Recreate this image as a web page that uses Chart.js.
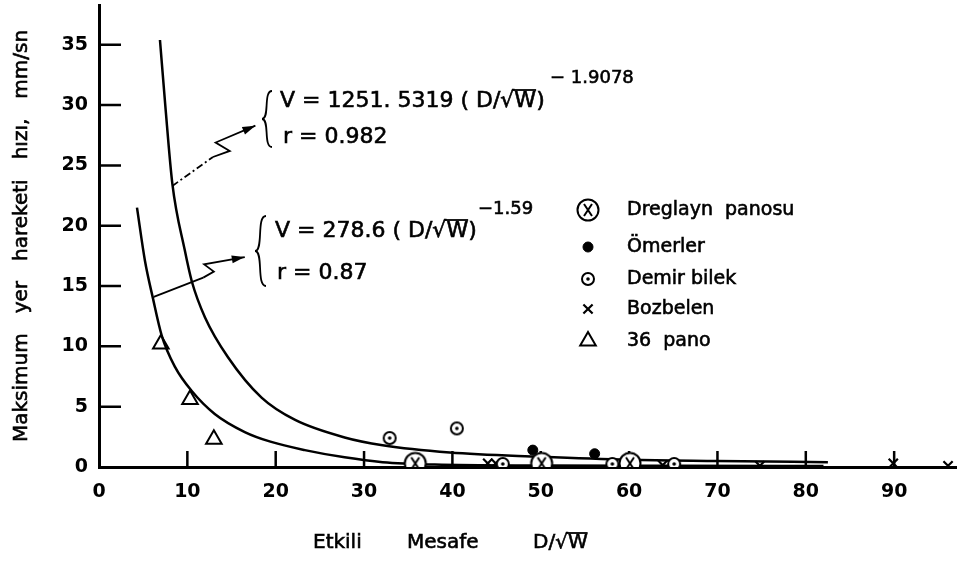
<!DOCTYPE html>
<html>
<head>
<meta charset="utf-8">
<script src="https://cdn.jsdelivr.net/npm/chart.js@4.4.0/dist/chart.umd.min.js"></script>
<style>
  html, body { margin: 0; padding: 0; background: #fff; }
  canvas { display: block; }
</style>
</head>
<body>
<canvas id="chart" width="971" height="569"></canvas>
<script>
// ===== Data =====
const xTicks = [0, 10, 20, 30, 40, 50, 60, 70, 80, 90];
const yTicks = [0, 5, 10, 15, 20, 25, 30, 35];

// V = 1251.5319 (D/sqrt W)^-1.9078 , r = 0.982
const curve1X = [6.9, 7.5, 8.3, 9.7, 10.5, 12.0, 14.6, 18.4, 22.2, 27.8, 32.1, 39.7, 50, 60, 70, 82.5];
const curve1Y = [35.4, 30.0, 23.5, 18.0, 15.4, 12.4, 9.1, 5.75, 3.9, 2.45, 1.8, 1.2, 0.85, 0.6, 0.5, 0.4];
// V = 278.6 (D/sqrt W)^-1.59 , r = 0.87
const curve2X = [4.3, 5.2, 6.1, 7.1, 8.6, 10.5, 13.1, 16.5, 19.4, 23.3, 27.8, 32.1, 38, 50, 65, 82];
const curve2Y = [21.5, 17.1, 14.0, 10.9, 8.3, 6.3, 4.4, 2.9, 2.1, 1.4, 0.8, 0.4, 0.2, 0.12, 0.1, 0.08];

const dregX = [35.8, 50.1, 60.1];
const dregY = [0.3, 0.3, 0.3];
const omerX = [49.1, 56.1];
const omerY = [1.4, 1.1];
const demirX = [32.9, 40.5, 45.7, 58.1, 65.1];
const demirY = [2.4, 3.2, 0.25, 0.25, 0.25];
const bozX = [44.0, 44.9, 63.8, 74.8, 89.9, 96.1];
const bozY = [0.3, 0.3, 0.15, 0.1, 0.3, 0.1];
const panoX = [7.0, 10.3, 13.0];
const panoY = [10.2, 5.6, 2.3];

const legendLabels = ["Dreglayn  panosu", "Ömerler", "Demir bilek", "Bozbelen", "36  pano"];

const pts = (xs, ys) => xs.map((x, i) => ({ x, y: ys[i] }));
const FONT = "'DejaVu Sans', sans-serif";

// ===== custom point symbols =====
function makeSymbol(size, paint) {
  const c = document.createElement("canvas");
  c.width = size; c.height = size;
  const g = c.getContext("2d");
  g.translate(size / 2, size / 2);
  g.strokeStyle = "#000";
  paint(g);
  return c;
}
const dregSymbol = makeSymbol(26, g => {
  g.lineWidth = 2;
  g.beginPath(); g.arc(0, 0, 10.5, 0, Math.PI * 2);
  g.fillStyle = "#fff"; g.fill(); g.stroke();
  g.beginPath();
  g.moveTo(-4, -6); g.lineTo(4, 6);
  g.moveTo(4, -6); g.lineTo(-4, 6);
  g.stroke();
});
const demirSymbol = makeSymbol(18, g => {
  g.lineWidth = 2;
  g.beginPath(); g.arc(0, 0, 6, 0, Math.PI * 2);
  g.fillStyle = "#fff"; g.fill(); g.stroke();
  g.beginPath(); g.arc(0, 0, 1.8, 0, Math.PI * 2);
  g.fillStyle = "#000"; g.fill();
});

// ===== inward tick marks =====
const insideTicks = {
  id: "insideTicks",
  beforeDatasetsDraw(chart) {
    const { ctx, chartArea, scales: { x, y } } = chart;
    ctx.save();
    ctx.strokeStyle = "#000";
    ctx.lineWidth = 2.5;
    ctx.beginPath();
    xTicks.forEach(v => {
      if (v === 0) return;
      const px = x.getPixelForValue(v);
      ctx.moveTo(px, chartArea.bottom); ctx.lineTo(px, chartArea.bottom - 16);
    });
    yTicks.forEach(v => {
      if (v === 0) return;
      const py = y.getPixelForValue(v);
      ctx.moveTo(chartArea.left, py); ctx.lineTo(chartArea.left + 22, py);
    });
    ctx.stroke();
    ctx.restore();
  }
};

// ===== equations, leaders, legend, axis titles =====
const leader1 = [[8.3, 23.3], [12.9, 25.7], [14.8, 26.2], [13.2, 26.9], [17.7, 28.3]];
const leader2 = [[6.2, 14.1], [11.8, 15.7], [13.0, 16.2], [11.9, 16.8], [16.5, 17.4]];

// text with a little extra weight, like the lettering of the original
function txt(ctx, s, x, y) {
  ctx.fillText(s, x, y);
  ctx.save();
  ctx.lineWidth = 0.6;
  ctx.strokeText(s, x, y);
  ctx.restore();
}

function drawRadical(ctx, text, x, y, size) {
  txt(ctx, text, x, y);
  const i = text.indexOf("√");
  if (i < 0) return;
  const pre = ctx.measureText(text.slice(0, i)).width;
  const sq = ctx.measureText("√").width;
  const w = ctx.measureText("W").width;
  const top = y - size * 0.5;
  ctx.save();
  ctx.lineWidth = 1.8;
  ctx.beginPath();
  ctx.moveTo(x + pre + sq * 0.85, top);
  ctx.lineTo(x + pre + sq + w, top);
  ctx.stroke();
  ctx.restore();
}

function drawBrace(ctx, x, top, bottom, w) {
  const mid = (top + bottom) / 2;
  ctx.beginPath();
  ctx.moveTo(x + w, top);
  ctx.bezierCurveTo(x + w * 0.1, top, x + w * 0.8, mid, x, mid);
  ctx.bezierCurveTo(x + w * 0.8, mid, x + w * 0.1, bottom, x + w, bottom);
  ctx.stroke();
}

function drawLeader(ctx, chart, line, dashed) {
  const { x, y } = chart.scales;
  const p = line.map(([a, b]) => [x.getPixelForValue(a), y.getPixelForValue(b)]);
  ctx.lineWidth = 1.8;
  ctx.beginPath();
  if (dashed) ctx.setLineDash([7, 3, 2, 3]);
  ctx.moveTo(p[0][0], p[0][1]); ctx.lineTo(p[1][0], p[1][1]);
  ctx.stroke();
  ctx.setLineDash([]);
  ctx.beginPath();
  ctx.moveTo(p[1][0], p[1][1]);
  for (let i = 2; i < p.length; i++) ctx.lineTo(p[i][0], p[i][1]);
  ctx.stroke();
  // arrow head
  const [tx, ty] = p[p.length - 1];
  const [sx, sy] = p[p.length - 2];
  const ang = Math.atan2(ty - sy, tx - sx);
  ctx.beginPath();
  ctx.moveTo(tx, ty);
  ctx.lineTo(tx - 13 * Math.cos(ang) + 4 * Math.sin(ang), ty - 13 * Math.sin(ang) - 4 * Math.cos(ang));
  ctx.lineTo(tx - 13 * Math.cos(ang) - 4 * Math.sin(ang), ty - 13 * Math.sin(ang) + 4 * Math.cos(ang));
  ctx.closePath();
  ctx.fill();
}

const notes = {
  id: "notes",
  afterDraw(chart) {
    const ctx = chart.ctx;
    ctx.save();
    ctx.fillStyle = "#000";
    ctx.strokeStyle = "#000";
    ctx.textBaseline = "middle";
    ctx.textAlign = "left";

    drawLeader(ctx, chart, leader1, true);
    drawLeader(ctx, chart, leader2, false);

    ctx.lineWidth = 1.8;
    drawBrace(ctx, 262, 91, 147, 10);
    drawBrace(ctx, 255, 216, 286, 11);

    ctx.font = "22px " + FONT;
    drawRadical(ctx, "V = 1251. 5319 ( D/√W)", 280, 101, 22);
    txt(ctx, "r = 0.982", 283, 137);
    drawRadical(ctx, "V = 278.6 ( D/√W)", 275, 231, 22);
    txt(ctx, "r = 0.87", 277, 273);
    ctx.font = "18px " + FONT;
    txt(ctx, "− 1.9078", 550, 78);
    txt(ctx, "−1.59", 478, 209);

    // legend
    const rows = [210, 247, 279, 309, 341];
    const sets = chart.data.datasets.slice(0, 5);
    ctx.font = "19px " + FONT;
    sets.forEach((ds, i) => {
      ctx.save();
      ctx.fillStyle = ds.backgroundColor;
      ctx.strokeStyle = "#000";
      ctx.lineWidth = ds.borderWidth;
      Chart.helpers.drawPoint(ctx, {
        pointStyle: ds.pointStyle, radius: ds.pointRadius,
        borderWidth: ds.borderWidth, rotation: 0
      }, 588, rows[i]);
      ctx.restore();
      txt(ctx, legendLabels[i], 627, rows[i]);
    });

    // x title
    ctx.font = "20px " + FONT;
    txt(ctx, "Etkili", 313, 543);
    txt(ctx, "Mesafe", 407, 543);
    drawRadical(ctx, "D/√W", 533, 543, 20);

    // y title, words spread along the axis
    ctx.translate(22, 442);
    ctx.rotate(-Math.PI / 2);
    let pos = 0;
    ["Maksimum", "yer", "hareketi", "hızı,", "mm/sn"].forEach(w => {
      txt(ctx, w, pos, 0);
      pos += ctx.measureText(w).width + 20;
    });
    ctx.restore();
  }
};

// ===== Chart =====
new Chart(document.getElementById("chart"), {
  type: "scatter",
  data: {
    datasets: [
      { label: "Dreglayn panosu", data: pts(dregX, dregY), pointStyle: dregSymbol, pointRadius: 10,
        backgroundColor: "#fff", borderColor: "#000", borderWidth: 2, order: 1 },
      { label: "Ömerler", data: pts(omerX, omerY), pointStyle: "circle", pointRadius: 5,
        backgroundColor: "#000", borderColor: "#000", borderWidth: 1, order: 1 },
      { label: "Demirbilek", data: pts(demirX, demirY), pointStyle: demirSymbol, pointRadius: 6,
        backgroundColor: "#fff", borderColor: "#000", borderWidth: 2, order: 1 },
      { label: "Bozbelen", data: pts(bozX, bozY), pointStyle: "crossRot", pointRadius: 6.5,
        backgroundColor: "#000", borderColor: "#000", borderWidth: 2.2, order: 1 },
      { label: "36 pano", data: pts(panoX, panoY), pointStyle: "triangle", pointRadius: 9,
        backgroundColor: "rgba(0,0,0,0)", borderColor: "#000", borderWidth: 2, order: 1 },
      { label: "V = 1251.5319", data: pts(curve1X, curve1Y), showLine: true, pointRadius: 0,
        borderColor: "#000", borderWidth: 2.5, cubicInterpolationMode: "monotone", order: 2 },
      { label: "V = 278.6", data: pts(curve2X, curve2Y), showLine: true, pointRadius: 0,
        borderColor: "#000", borderWidth: 2.5, cubicInterpolationMode: "monotone", order: 2 }
    ]
  },
  options: {
    responsive: false,
    animation: false,
    layout: { autoPadding: false, padding: { top: 5, right: 15, left: 0, bottom: 0 } },
    plugins: { legend: { display: false }, tooltip: { enabled: false } },
    scales: {
      x: {
        type: "linear", min: 0, max: 97,
        afterFit: s => { s.height = 102; s.paddingLeft = 0; s.paddingRight = 0; },
        afterBuildTicks: s => { s.ticks = xTicks.map(v => ({ value: v })); },
        grid: { display: false, drawTicks: false },
        border: { display: true, color: "#000", width: 3 },
        ticks: { color: "#000", padding: 14, maxRotation: 0, font: { family: FONT, size: 19, weight: "bold" } }
      },
      y: {
        type: "linear", min: 0, max: 38.3,
        afterFit: s => { s.width = 99; s.paddingTop = 0; s.paddingBottom = 0; },
        afterBuildTicks: s => { s.ticks = yTicks.map(v => ({ value: v })); },
        grid: { display: false, drawTicks: false },
        border: { display: true, color: "#000", width: 3 },
        ticks: { color: "#000", padding: 11, font: { family: FONT, size: 19, weight: "bold" } }
      }
    }
  },
  plugins: [insideTicks, notes]
});
</script>
</body>
</html>
